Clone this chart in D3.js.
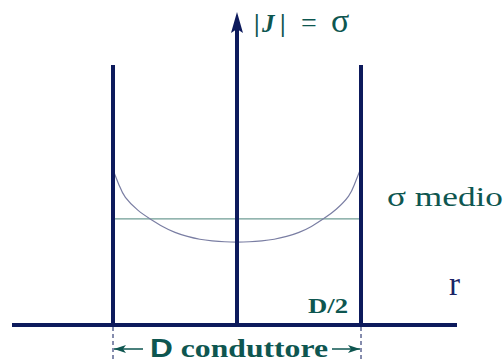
<!DOCTYPE html>
<html>
<head>
<meta charset="utf-8">
<script src="https://cdn.jsdelivr.net/npm/d3@7"></script>
<style>
  body { margin: 0; background: #fff; }
  svg { display: block; }
  .serif { font-family: "Times New Roman", Times, "Liberation Serif", "DejaVu Serif", serif; }
  .sans { font-family: Arial, Helvetica, "Liberation Sans", "DejaVu Sans", sans-serif; }
</style>
</head>
<body>
<div id="chart"></div>
<script>
// radial position (r / (D/2)) and current density |J|
var radius = [-1, -0.95, -0.9, -0.8, -0.7, -0.6, -0.5, -0.4, -0.3, -0.2, -0.1, 0, 0.1, 0.2, 0.3, 0.4, 0.5, 0.6, 0.7, 0.8, 0.9, 0.95, 1];
var density = [49.5, 44.6, 40.8, 36.7, 33.9, 31.5, 29.6, 28.3, 27.4, 26.9, 26.6, 26.5, 26.6, 26.9, 27.4, 28.3, 29.6, 31.5, 34.0, 37.0, 41.2, 45.2, 50.2];
var meanDensity = 33.9;

var labels = {
    mean: "σ medio",
    xAxis: "r",
    half: "D/2",
    diameter: ["D", " conduttore"]
};

var width = 504,
    height = 362,
    navy = "#0d1a5c",
    teal = "#0e5650";

var svg = d3.select("#chart")
    .append("svg")
    .attr("width", width)
    .attr("height", height);

var x = d3.scaleLinear()
    .domain([-1, 1])
    .range([113, 361]);

var y = d3.scaleLinear()
    .domain([0, 100])
    .range([325, 12]);

var wallTop = 65;

// small teal arrows for the diameter
svg.append("defs").append("marker")
    .attr("id", "arrowSmall")
    .attr("viewBox", "0 0 12 8")
    .attr("refX", 12)
    .attr("refY", 4)
    .attr("markerWidth", 12)
    .attr("markerHeight", 8)
    .attr("markerUnits", "userSpaceOnUse")
    .attr("orient", "auto")
    .append("path")
    .attr("d", "M0,0 L12,4 L0,8 L3,4 Z")
    .attr("fill", teal);

// mean line
svg.append("line")
    .attr("x1", x(-1))
    .attr("x2", x(1))
    .attr("y1", y(meanDensity))
    .attr("y2", y(meanDensity))
    .attr("stroke", "#6f9c94")
    .attr("stroke-width", 1.3);

// density curve
var line = d3.line()
    .x(function (d, i) { return x(radius[i]); })
    .y(function (d) { return y(d); })
    .curve(d3.curveNatural);

svg.append("path")
    .datum(density)
    .attr("d", line)
    .attr("fill", "none")
    .attr("stroke", "#7a7ea3")
    .attr("stroke-width", 1.2);

// conductor walls
[-1, 1].forEach(function (r) {
    svg.append("line")
        .attr("x1", x(r))
        .attr("x2", x(r))
        .attr("y1", wallTop)
        .attr("y2", y(0))
        .attr("stroke", navy)
        .attr("stroke-width", 4);

    svg.append("line")
        .attr("x1", x(r))
        .attr("x2", x(r))
        .attr("y1", y(0) + 2)
        .attr("y2", height)
        .attr("stroke", navy)
        .attr("stroke-width", 1)
        .attr("stroke-dasharray", "4,3");
});

// vertical axis
svg.append("line")
    .attr("x1", x(0))
    .attr("x2", x(0))
    .attr("y1", y(0))
    .attr("y2", y(100) + 14)
    .attr("stroke", navy)
    .attr("stroke-width", 4);

svg.append("path")
    .attr("d", "M" + (x(0) - 6) + "," + (y(100) + 21) + " L" + x(0) + "," + y(100) +
        " L" + (x(0) + 6) + "," + (y(100) + 21) + " L" + x(0) + "," + (y(100) + 17) + " Z")
    .attr("fill", navy);

// horizontal axis
svg.append("line")
    .attr("x1", 12)
    .attr("x2", 457)
    .attr("y1", y(0))
    .attr("y2", y(0))
    .attr("stroke", navy)
    .attr("stroke-width", 4);

// y axis label |J| = σ
var yLab = svg.append("g")
    .attr("class", "serif")
    .attr("fill", teal);
yLab.append("text").attr("x", 254).attr("y", 32).attr("font-size", 25).attr("font-weight", "bold").text("|");
yLab.append("text").attr("x", 262).attr("y", 32).attr("font-size", 25)
    .attr("font-weight", "bold").attr("font-style", "italic").text("J");
yLab.append("text").attr("x", 280).attr("y", 32).attr("font-size", 25).attr("font-weight", "bold").text("|");
yLab.append("text").attr("x", 301).attr("y", 32).attr("font-size", 28).text("=");
yLab.append("text").attr("x", 331).attr("y", 32).attr("font-size", 34).text("σ");

svg.append("text")
    .attr("class", "serif")
    .attr("x", 387)
    .attr("y", 206)
    .attr("font-size", 27)
    .attr("textLength", 116)
    .attr("lengthAdjust", "spacingAndGlyphs")
    .attr("fill", teal)
    .text(labels.mean);

svg.append("text")
    .attr("class", "serif")
    .attr("x", 449)
    .attr("y", 295)
    .attr("font-size", 33)
    .attr("fill", "#1a2466")
    .text(labels.xAxis);

svg.append("text")
    .attr("class", "serif")
    .attr("x", 308)
    .attr("y", 313)
    .attr("font-weight", "bold")
    .attr("font-size", 21)
    .attr("textLength", 40)
    .attr("lengthAdjust", "spacingAndGlyphs")
    .attr("fill", teal)
    .text(labels.half);

var dLab = svg.append("text")
    .attr("x", 150)
    .attr("y", 357)
    .attr("font-weight", "bold")
    .attr("font-size", 26)
    .attr("textLength", 178)
    .attr("lengthAdjust", "spacingAndGlyphs")
    .attr("fill", teal);
dLab.append("tspan").attr("class", "sans").text(labels.diameter[0]);
dLab.append("tspan").attr("class", "serif").text(labels.diameter[1]);

// diameter arrows
svg.append("line")
    .attr("x1", 143).attr("x2", x(-1) + 1)
    .attr("y1", 349).attr("y2", 349)
    .attr("stroke", teal).attr("stroke-width", 1.5)
    .attr("marker-end", "url(#arrowSmall)");

svg.append("line")
    .attr("x1", 332).attr("x2", x(1) - 1)
    .attr("y1", 349).attr("y2", 349)
    .attr("stroke", teal).attr("stroke-width", 1.5)
    .attr("marker-end", "url(#arrowSmall)");
</script>
</body>
</html>
